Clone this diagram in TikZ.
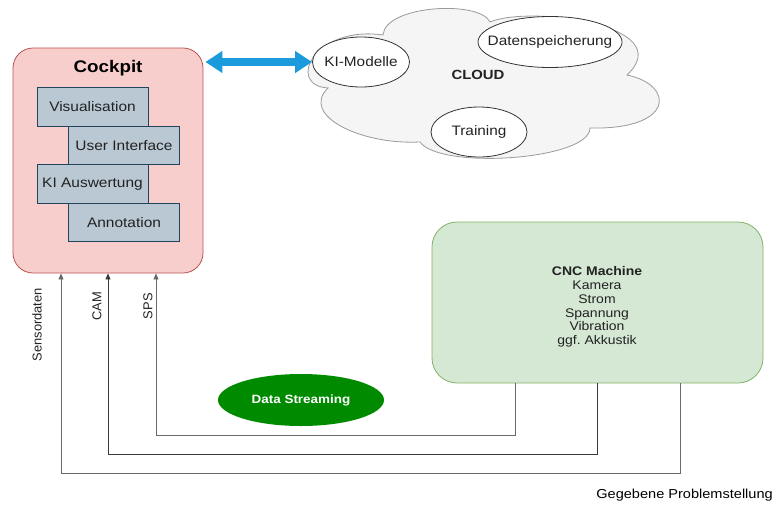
\documentclass[tikz,border=0pt]{standalone}
\usepackage{fontspec}
\setmainfont{Liberation Sans}[FakeStretch=1.12]
\newfontfamily\vfont{Liberation Sans}
\usetikzlibrary{arrows.meta,shapes.geometric}
\definecolor{cpfill}{HTML}{F8CECC}
\definecolor{cpdraw}{HTML}{B85450}
\definecolor{infill}{HTML}{BAC8D3}
\definecolor{indraw}{HTML}{23445D}
\definecolor{cncfill}{HTML}{D5E8D4}
\definecolor{cncdraw}{HTML}{82B366}
\definecolor{cloudfill}{HTML}{F5F5F5}
\definecolor{clouddraw}{HTML}{9A9A9A}
\definecolor{elldraw}{HTML}{333333}
\definecolor{dsfill}{HTML}{008A00}
\definecolor{arrblue}{HTML}{1B9BDC}
\definecolor{txt}{HTML}{222222}
\definecolor{lineA}{HTML}{6A6A6A}
\definecolor{lineB}{HTML}{3A3A3A}
\begin{document}
\begin{tikzpicture}[x=1pt,y=-1pt,
  innerbox/.style={draw=indraw, fill=infill, line width=0.8pt, minimum width=111pt, minimum height=38.5pt, inner sep=0pt, font=\fontsize{13.8}{16}\selectfont, text=txt},
  cloudell/.style={ellipse, draw=elldraw, fill=white, line width=0.8pt, inner sep=0pt, font=\fontsize{13.7}{16}\selectfont, text=txt},
  conn/.style={line width=0.8pt, -{Triangle[length=6pt,width=5pt]}},
  vlabel/.style={rotate=90, anchor=east, inner sep=0pt, font=\vfont\fontsize{12.9}{15}\selectfont, text=txt}]
\useasboundingbox (0,0) rectangle (783,522);
% Cockpit
\node[draw=cpdraw, fill=cpfill, line width=0.8pt, rounded corners=20pt, minimum width=190pt, minimum height=225pt, inner sep=0pt] (cockpit) at (108,160.5) {};
\node[font=\bfseries\fontsize{16.8}{20}\selectfont, text=black] (cptitle) at (108,68) {Cockpit};
\node[innerbox] (vis) at (92.5,107) {Visualisation};
\node[innerbox] (ui) at (124,145.5) {User Interface};
\node[innerbox] (kia) at (92.5,184) {KI Auswertung};
\node[innerbox] (ann) at (124,222.5) {Annotation};
% Cloud
\draw[fill=cloudfill, draw=clouddraw, line width=0.8pt]
  (328,88) .. controls (285,85) and (315,25) .. (383,35)
  .. controls (385,5) and (480,0) .. (490,22)
  .. controls (530,5) and (680,25) .. (627,75)
  .. controls (675,85) and (675,130) .. (590,128)
  .. controls (590,160) and (440,170) .. (420,142)
  .. controls (360,145) and (300,115) .. (328,88) -- cycle;
\node[cloudell, minimum width=97pt, minimum height=50pt] (ki) at (361,62) {\makebox[0pt]{KI-Modelle}};
\node[cloudell, minimum width=144pt, minimum height=51pt] (ds1) at (550,42) {\makebox[0pt]{Datenspeicherung}};
\node[cloudell, minimum width=96pt, minimum height=50pt] (tr) at (479,132) {\makebox[0pt]{Training}};
\node[font=\bfseries\fontsize{13.3}{16}\selectfont, text=txt] (cloudlbl) at (478,75) {CLOUD};
% double arrow
\draw[arrblue, line width=8pt, {Triangle[width=21pt,length=17pt]}-{Triangle[width=21pt,length=17pt]}] ([xshift=2pt]cockpit.east |- ki.west) -- (ki.west);
% CNC
\node[draw=cncdraw, fill=cncfill, line width=0.8pt, rounded corners=25pt, minimum width=331pt, minimum height=161pt, inner sep=0pt] (cnc) at (597.5,302.5) {};
\node[align=center, inner sep=0pt, font=\fontsize{12.5}{13.8}\selectfont, text=txt] (cnctext) at (597,307) {\textbf{CNC Machine}\\Kamera\\Strom\\Spannung\\Vibration\\ggf.\ Akkustik};
% Data streaming
\node[ellipse, fill=dsfill, minimum width=166pt, minimum height=52pt, inner sep=0pt, text=white, font=\bfseries\fontsize{12}{14}\selectfont] (dstream) at (301,400) {\makebox[0pt]{Data Streaming}};
% connectors
\coordinate (a1) at (515,435);
\coordinate (a2) at (597,454);
\coordinate (a3) at (680,473);
\coordinate (spsx) at (156,435);
\coordinate (camx) at (108,454);
\coordinate (senx) at (61,473);
\draw[conn, draw=lineA] (cnc.south -| a1) -- (a1) -- (spsx) -- (spsx |- cockpit.south);
\draw[conn, draw=lineB] (cnc.south -| a2) -- (a2) -- (camx) -- (camx |- cockpit.south);
\draw[conn, draw=lineA] (cnc.south -| a3) -- (a3) -- (senx) -- (senx |- cockpit.south);
\node[vlabel] (lsen) at (37,288) {Sensordaten};
\node[vlabel] (lcam) at (97,292) {CAM};
\node[vlabel] (lsps) at (148,293) {SPS};
\node[anchor=east, inner sep=0pt, font=\fontsize{13}{15}\selectfont, text=black] (gp) at (773,495) {Gegebene Problemstellung};
\end{tikzpicture}
\end{document}
